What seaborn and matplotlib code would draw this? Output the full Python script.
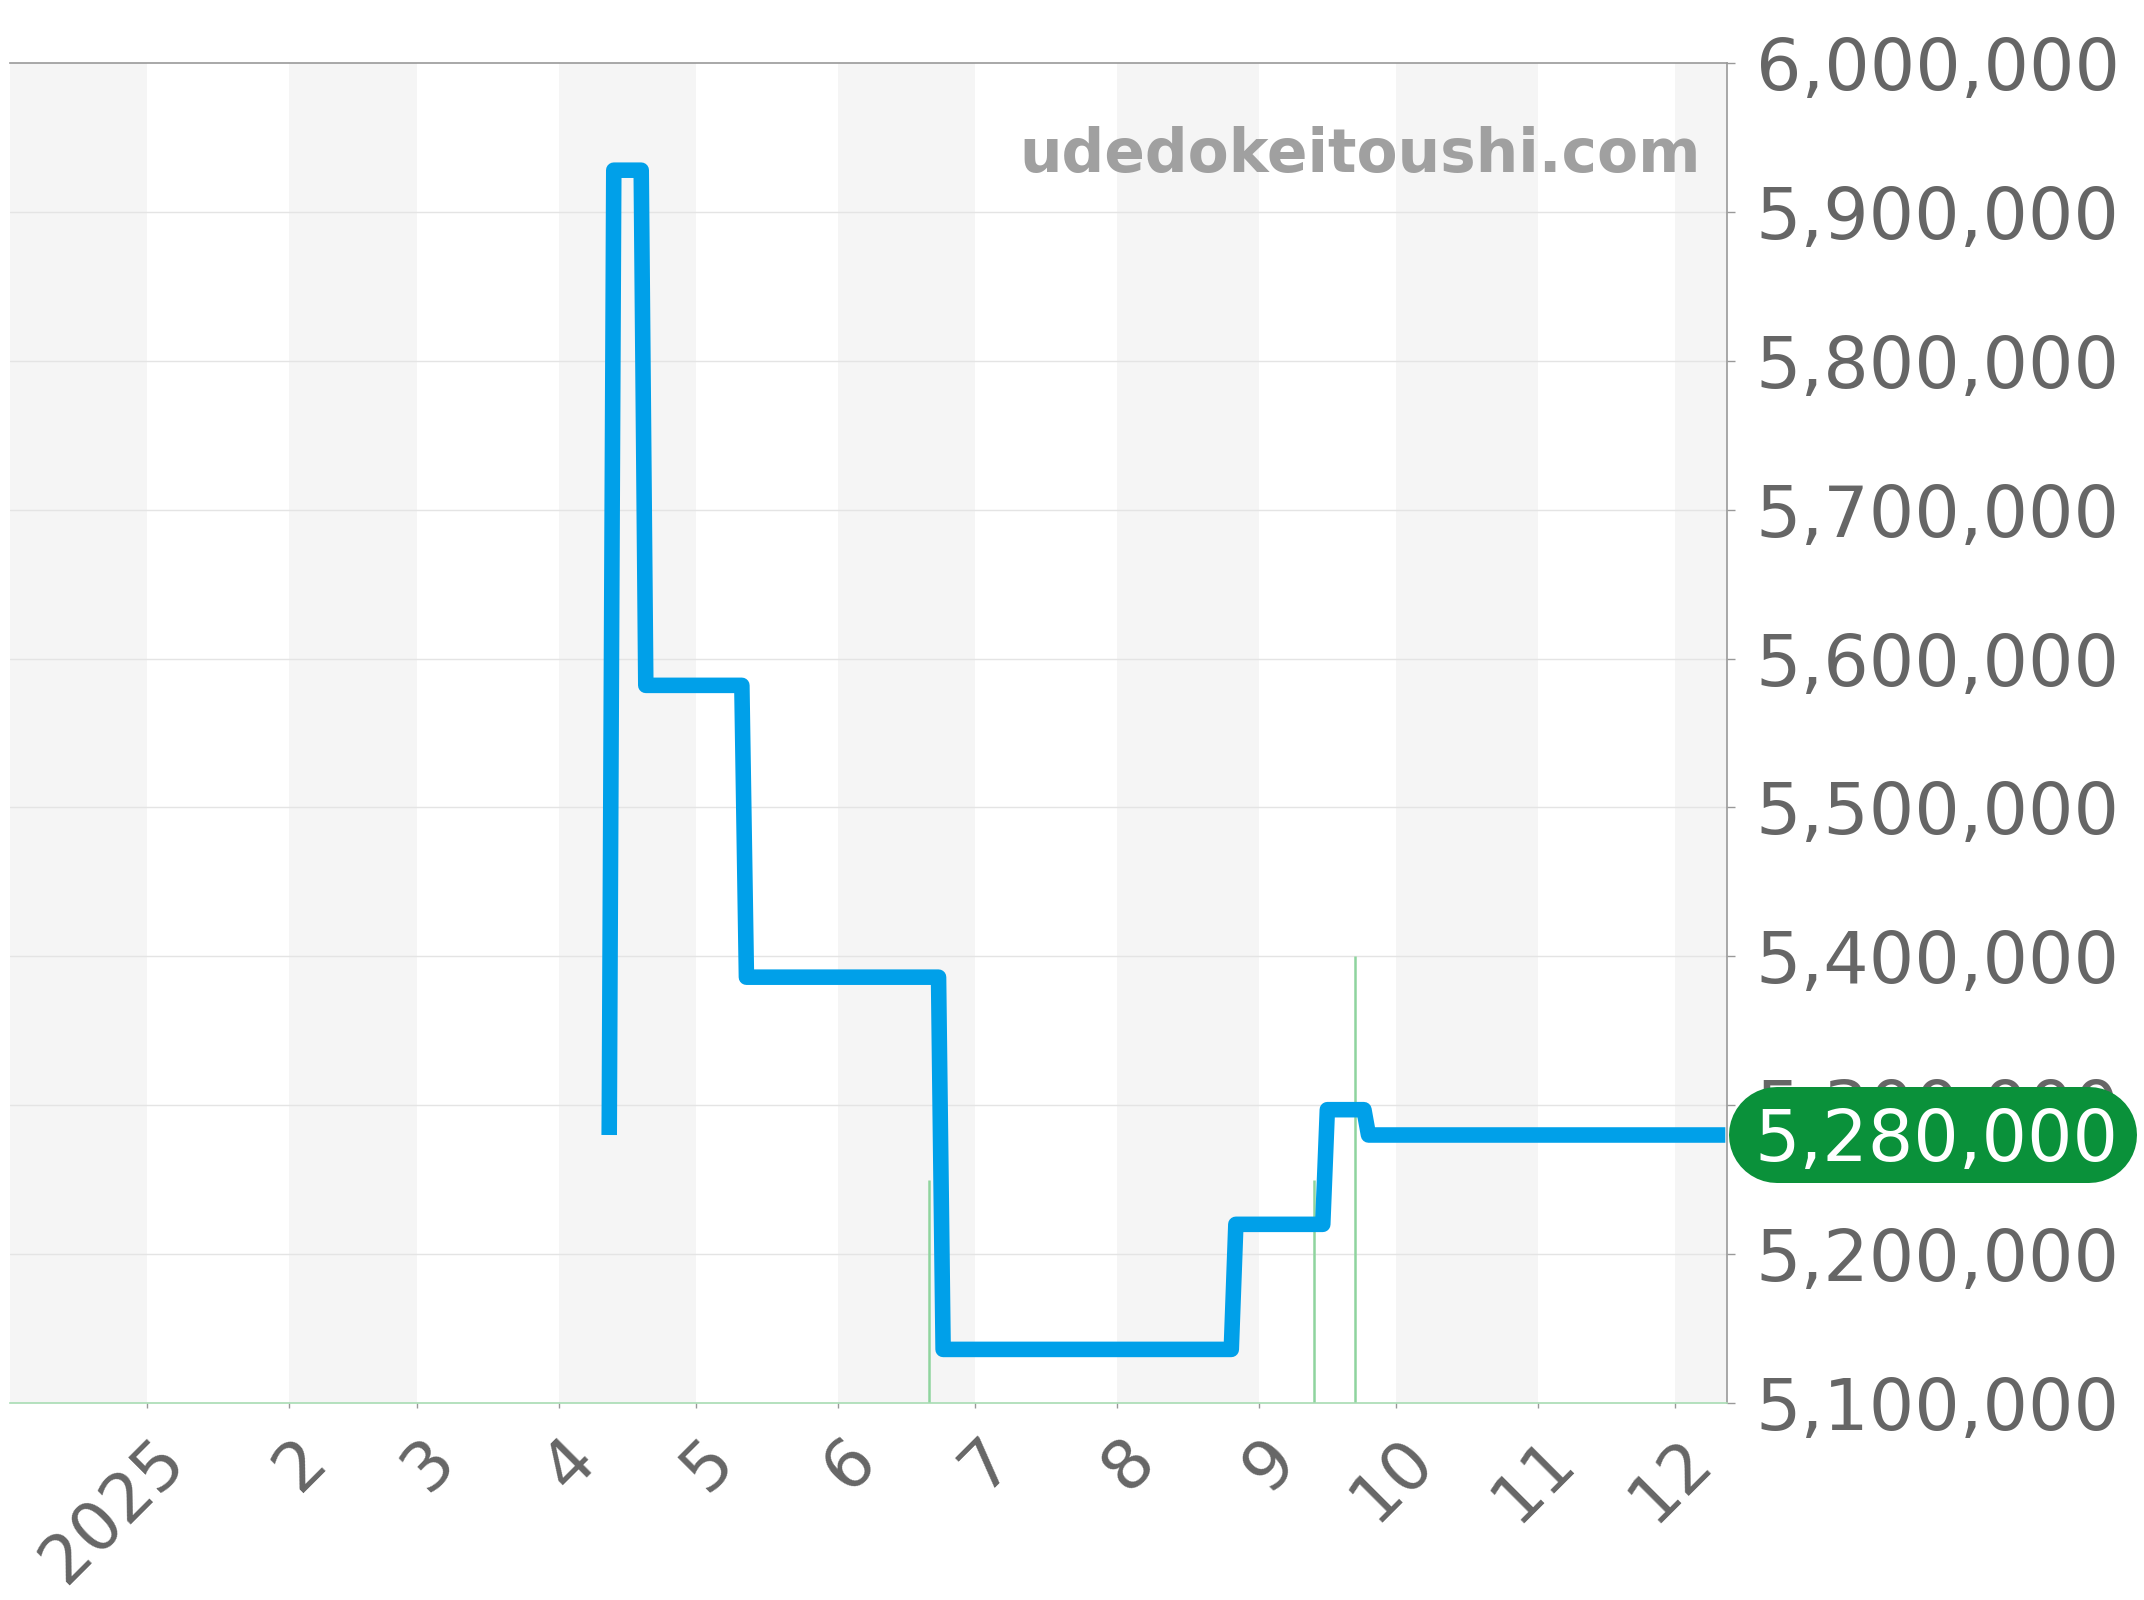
import matplotlib
matplotlib.use("Agg")
import matplotlib.pyplot as plt
import matplotlib.transforms as mtransforms
from matplotlib.lines import Line2D
import pandas as pd
import seaborn as sns

# price history (step-like line)
dates = ["2025-04-12", "2025-04-13", "2025-04-19", "2025-04-20", "2025-05-11",
         "2025-05-12", "2025-06-23", "2025-06-24", "2025-08-26", "2025-08-27",
         "2025-09-15", "2025-09-16", "2025-09-24", "2025-09-25", "2025-12-12"]
prices = [5280000, 5928000, 5928000, 5582000, 5582000,
          5386000, 5386000, 5136000, 5136000, 5220000,
          5220000, 5297000, 5297000, 5280000, 5280000]

# thin green markers
listing_dates = ["2025-06-21", "2025-09-13", "2025-09-22"]
listing_values = [5250000, 5250000, 5400000]

month_starts = pd.date_range("2024-12-01", "2026-01-01", freq="MS")
tick_labels = ["2025", "2", "3", "4", "5", "6", "7", "8", "9", "10", "11", "12"]
y_ticks = list(range(5100000, 6000001, 100000))

sns.set_style("white")
plt.rcParams["font.family"] = ["DejaVu Sans"]

W, H = 2144, 1600
fig = plt.figure(figsize=(W / 100, H / 100), dpi=100)
ax = fig.add_axes([10 / W, 197 / H, 1717 / W, 1340 / H])

# alternating month bands
for i in range(len(month_starts) - 1):
    if i % 2 == 0:
        ax.axvspan(month_starts[i], month_starts[i + 1], color="#f5f5f5", lw=0, zorder=0)

for v in y_ticks[1:-1]:
    ax.axhline(v, color="#e4e4e4", lw=1, zorder=1)

ax.vlines(pd.to_datetime(listing_dates), y_ticks[0], listing_values,
          color="#8fd49e", lw=1.8, zorder=2)

df = pd.DataFrame({"date": pd.to_datetime(dates), "price": prices})
sns.lineplot(data=df, x="date", y="price", estimator=None, sort=False, ax=ax,
             color="#00a0e9", linewidth=11.2, zorder=3,
             solid_joinstyle="round", solid_capstyle="butt")

ax.set_xlim(pd.Timestamp("2024-12-02"), pd.Timestamp("2025-12-12 09:00"))
ax.set_ylim(y_ticks[0], y_ticks[-1])
ax.set_xlabel("")
ax.set_ylabel("")

ax.spines["left"].set_visible(False)
ax.spines["top"].set_color("#999999")
ax.spines["right"].set_color("#999999")
ax.spines["bottom"].set_color("#a8dcb3")
for s in ["top", "right", "bottom"]:
    ax.spines[s].set_linewidth(1.2)

ax.yaxis.tick_right()
ax.set_yticks(y_ticks)
ax.set_yticklabels([f"{v:,}" for v in y_ticks])
ax.tick_params(axis="y", right=True, left=False, length=5.8, width=1,
               color="#999999", labelsize=51.5, labelcolor="#666666", pad=15)

ax.set_xticks(month_starts[1:13])
ax.set_xticklabels(tick_labels, rotation=45, ha="right")
ax.tick_params(axis="x", bottom=True, length=3.5, width=1, color="#999999",
               labelsize=49, labelcolor="#666666", pad=13)
shift = mtransforms.ScaledTranslation(50 / 100, 0, fig.dpi_scale_trans)
for lbl in ax.get_xticklabels():
    lbl.set_transform(lbl.get_transform() + shift)

ax.text(0.985, 0.919, "udedokeitoushi.com", transform=ax.transAxes,
        ha="right", va="baseline", fontsize=43, fontweight="bold",
        color="#a0a0a0", zorder=4)

# current price badge (pill = thick line with round caps)
px, py = ax.get_yaxis_transform().transform((1, prices[-1]))
bw, bh = 408, 96
pill = Line2D([px + 2 + bh / 2, px + 2 + bw - bh / 2], [py, py],
              linewidth=bh * 72 / 100, color="#0a913a",
              solid_capstyle="round",
              transform=mtransforms.IdentityTransform(), zorder=10)
fig.add_artist(pill)
fig.text(px + 2 + bw / 2 + 3, py - 26, f"{prices[-1]:,}", color="white",
         fontsize=51.5, ha="center", va="baseline",
         transform=mtransforms.IdentityTransform(), zorder=11)

fig.savefig("out.png", dpi=100)
